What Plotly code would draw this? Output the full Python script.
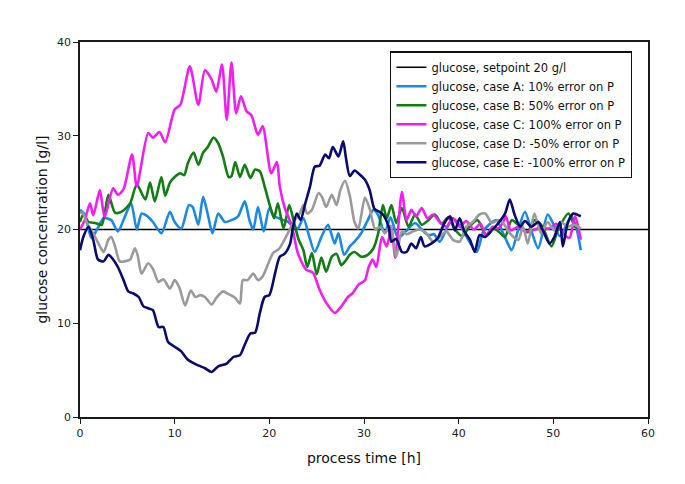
import plotly.graph_objects as go

# setpoint
setpoint_t = [0, 60]
setpoint_y = [20, 20]

# case A: 10% error on P
a_t = [0, 0.5, 1.2, 1.8, 2.5, 3.3, 4.0, 4.75, 5.4, 6.0, 6.5, 7.0, 7.7, 8.6, 9.5, 10.0, 10.7, 11.5, 11.9,
       12.5, 13.0, 13.5, 14.0, 14.6, 15.3, 16.0, 16.7, 17.4, 17.9, 18.3, 18.8, 19.4, 20.0, 20.5, 21.0, 21.5,
       22.0, 22.5, 23.0, 23.6, 24.2, 24.8, 25.5, 26.2, 26.9, 27.3, 27.9, 28.5, 29.0, 29.7, 30.4, 31.0, 31.5,
       32.2, 32.8, 33.6, 34.4, 35.4, 36.1, 36.8, 37.4, 38.0, 38.7, 39.4, 40.1, 40.8, 41.9, 42.6, 43.3, 44.0,
       44.6, 45.1, 45.6, 46.3, 47.0, 47.7, 48.4, 49.4, 50.0, 50.7, 51.9, 52.4, 52.9]
a_y = [22.1, 21.6, 19.1, 20.0, 21.2, 21.0, 19.8, 21.4, 22.8, 20.0, 21.7, 21.5, 20.8, 19.6, 21.9, 20.8, 20.1,
       22.6, 22.4, 20.5, 23.5, 21.6, 19.6, 21.7, 20.8, 21.0, 21.4, 23.0, 21.0, 20.0, 22.4, 19.8, 22.3, 21.4,
       21.2, 21.0, 20.8, 20.3, 20.1, 21.2, 19.3, 17.6, 19.2, 20.5, 18.5, 19.6, 17.3, 18.2, 18.7, 19.6, 21.0,
       22.1, 21.5, 19.6, 21.3, 19.1, 19.8, 20.7, 20.0, 19.4, 19.5, 18.7, 20.0, 21.2, 20.5, 19.3, 17.6, 19.8,
       20.6, 21.0, 19.8, 18.7, 17.8, 20.0, 21.9, 19.8, 18.0, 21.6, 20.6, 19.3, 21.4, 20.3, 17.8]

# case B: 50% error on P
b_t = [0, 0.35, 0.9, 1.6, 2.3, 3.0, 3.7, 4.4, 5.3, 6.0, 6.9, 7.4, 7.9, 8.6, 9.0, 9.5, 10.0, 10.6, 11.0, 11.4,
       12.0, 12.5, 13.0, 13.5, 14.1, 14.6, 15.1, 15.7, 16.0, 16.4, 16.9, 17.4, 18.0, 18.5, 19.0, 19.5, 20.1,
       20.5, 20.9, 21.5, 22.1, 22.6, 23.1, 23.6, 24.0, 24.5, 25.0, 25.5, 26.0, 26.6, 27.1, 27.6, 28.0, 28.5,
       29.0, 29.7, 30.4, 31.0, 31.5, 32.0, 32.4, 32.9, 33.4, 34.0, 34.7, 35.4, 36.1, 36.8, 37.5, 38.2, 38.9,
       39.6, 40.4, 41.2, 42.0, 42.9, 43.6, 44.3, 44.9, 45.6, 46.5, 47.3, 48.0, 48.8, 49.8, 50.5, 51.6, 52.3, 52.9]
b_y = [20.8, 21.6, 20.8, 20.7, 20.5, 23.7, 21.8, 21.9, 22.8, 24.8, 23.2, 25.0, 23.0, 25.6, 23.6, 25.0, 25.6,
       26.0, 25.8, 27.1, 28.2, 26.9, 28.2, 28.8, 29.8, 29.2, 27.8, 25.6, 25.7, 27.2, 25.6, 26.9, 25.5, 26.4,
       26.2, 24.6, 22.4, 21.2, 22.8, 20.1, 22.6, 20.8, 18.9, 17.8, 16.0, 17.5, 15.2, 17.0, 15.5, 17.1, 17.4,
       16.2, 16.6, 17.3, 17.6, 17.1, 17.3, 18.0, 19.6, 22.6, 21.2, 22.6, 20.7, 22.3, 20.3, 21.6, 20.5, 21.0,
       21.6, 20.6, 21.3, 20.0, 19.3, 20.4, 21.0, 19.4, 20.2, 19.7, 19.2, 21.0, 20.3, 19.7, 21.0, 20.4, 18.2,
       20.0, 21.7, 20.3, 20.1]

# case C: 100% error on P
c_t = [0, 0.5, 1.06, 1.4, 2.1, 2.6, 3.5, 4.0, 4.6, 5.5, 6.0, 7.2, 7.7, 8.4, 9.0, 10.0, 10.6, 11.6, 12.5, 13.2,
       13.9, 14.4, 15.0, 15.5, 16.0, 16.5, 17.0, 17.6, 18.1, 18.8, 19.3, 20.2, 20.8, 21.1, 21.6, 22.4, 23.0,
       23.9, 24.6, 25.3, 26.0, 26.9, 27.6, 28.3, 28.8, 29.4, 30.1, 30.5, 30.9, 31.3, 31.9, 32.4, 32.9, 33.3,
       34.0, 34.5, 35.0, 35.5, 36.1, 36.7, 37.3, 38.0, 38.7, 39.4, 40.1, 40.8, 41.6, 42.3, 42.9, 43.6, 44.2,
       44.7, 45.0, 45.5, 46.3, 47.0, 47.8, 48.6, 49.6, 50.3, 51.0, 51.7, 52.3, 52.9]
c_y = [20.0, 21.0, 22.8, 21.5, 24.2, 21.3, 24.4, 23.7, 24.3, 28.0, 24.6, 30.3, 29.8, 30.4, 29.3, 32.8, 33.3,
       37.4, 33.3, 37.0, 36.0, 34.7, 37.6, 31.7, 37.8, 32.4, 34.2, 32.6, 32.2, 30.1, 31.0, 26.0, 27.2, 24.6,
       22.4, 20.3, 17.5, 15.7, 15.4, 13.6, 12.2, 11.1, 11.8, 12.8, 13.2, 14.1, 14.6, 16.0, 16.8, 16.0, 19.2,
       18.2, 20.3, 17.0, 24.0, 21.0, 22.1, 21.4, 22.3, 21.2, 21.6, 20.8, 20.3, 21.2, 20.3, 20.9, 20.0, 20.6,
       19.4, 20.3, 20.1, 20.8, 21.4, 19.9, 20.3, 19.8, 19.9, 20.2, 20.1, 20.6, 19.6, 19.1, 21.4, 18.9]

# case D: -50% error on P
d_t = [0, 0.3, 0.7, 1.6, 2.0, 2.5, 3.0, 3.3, 3.7, 4.2, 4.7, 5.3, 5.8, 6.1, 6.5, 7.2, 7.7, 8.3, 8.8, 9.5, 10.0,
       10.5, 11.1, 11.7, 12.2, 12.7, 13.2, 13.9, 14.4, 15.1, 15.7, 16.4, 16.9, 17.2, 17.7, 18.3, 18.8, 19.3,
       19.9, 20.4, 21.0, 21.6, 22.2, 22.7, 23.2, 23.6, 24.0, 24.5, 25.2, 25.6, 26.0, 26.6, 27.1, 27.5, 28.0,
       28.5, 29.0, 29.4, 30.1, 30.6, 31.2, 31.7, 32.2, 32.8, 33.4, 34.0, 34.5, 35.2, 35.9, 36.6, 37.3, 38.0,
       38.7, 39.4, 40.1, 40.8, 41.5, 42.2, 42.8, 43.5, 44.2, 44.7, 45.4, 46.3, 46.8, 47.3, 48.0, 48.7, 49.4,
       50.1, 50.8, 51.5, 52.2, 52.9]
d_y = [21.8, 21.7, 20.8, 19.2, 18.4, 17.6, 18.9, 19.2, 18.2, 16.6, 16.6, 16.8, 18.0, 17.2, 15.3, 16.4, 15.8,
       14.4, 14.7, 13.7, 14.6, 13.8, 11.9, 13.5, 12.8, 13.0, 12.8, 12.0, 12.7, 13.4, 13.1, 12.7, 12.1, 14.6,
       14.6, 15.3, 14.6, 15.0, 16.4, 17.5, 17.9, 18.9, 20.1, 21.0, 21.7, 22.6, 21.7, 22.1, 23.9, 23.4, 22.4,
       23.7, 22.6, 24.2, 25.2, 23.6, 20.8, 20.1, 23.4, 22.2, 20.0, 20.3, 19.6, 20.4, 17.1, 19.8, 19.5, 19.8,
       20.0, 19.6, 18.7, 19.2, 19.8, 18.9, 18.7, 20.3, 20.8, 21.6, 21.7, 20.7, 21.0, 20.7, 19.6, 18.9, 20.3,
       18.5, 21.7, 19.6, 20.8, 19.9, 20.8, 20.3, 20.5, 20.1]

# case E: -100% error on P
e_t = [0, 0.35, 0.9, 1.4, 1.9, 2.5, 3.0, 3.5, 4.0, 4.6, 5.1, 5.6, 6.2, 6.7, 7.2, 7.7, 8.3, 8.8, 9.3, 10.0,
       10.7, 11.4, 12.5, 13.2, 13.9, 14.6, 15.5, 16.2, 16.9, 17.4, 18.0, 18.5, 19.0, 19.5, 20.0, 20.6, 21.1,
       21.6, 22.2, 22.5, 22.9, 23.3, 23.8, 24.3, 24.8, 25.3, 25.9, 26.3, 26.7, 27.3, 27.8, 28.1, 28.5, 29.0,
       29.5, 30.1, 30.6, 31.1, 31.6, 32.0, 32.6, 32.9, 33.4, 34.0, 34.5, 35.0, 35.5, 36.0, 36.4, 37.1, 37.8,
       38.5, 39.1, 39.6, 40.1, 40.6, 41.2, 41.7, 42.2, 42.8, 43.5, 44.2, 44.9, 45.4, 45.9, 46.5, 47.0, 47.7,
       48.4, 48.9, 49.6, 50.1, 50.7, 51.0, 51.5, 52.1, 52.5, 52.9]
e_y = [17.8, 19.2, 20.3, 18.9, 16.8, 16.6, 17.3, 16.8, 16.0, 14.6, 13.4, 13.2, 12.8, 11.8, 11.6, 11.4, 9.6,
       9.6, 8.0, 7.5, 7.0, 6.1, 5.5, 5.2, 4.8, 5.4, 5.7, 6.4, 6.6, 7.7, 8.9, 9.0, 11.1, 12.8, 13.0, 15.3, 17.1,
       17.4, 18.5, 20.3, 21.7, 21.0, 22.8, 24.6, 26.7, 26.8, 28.0, 27.6, 28.8, 27.8, 29.4, 27.6, 25.7, 26.3,
       25.9, 25.3, 24.2, 22.2, 21.9, 21.6, 20.3, 18.7, 19.0, 17.6, 17.6, 18.5, 18.0, 19.2, 18.2, 18.5, 19.1,
       20.7, 21.4, 19.9, 21.2, 19.8, 18.9, 17.6, 19.4, 19.2, 19.9, 20.7, 21.7, 23.2, 21.6, 20.3, 20.9, 20.3,
       20.8, 19.9, 18.5, 19.2, 20.8, 18.2, 20.6, 21.7, 21.6, 21.4]

series = [
    ("glucose, setpoint 20 g/l", setpoint_t, setpoint_y, "#000000", 1.4),
    ("glucose, case A: 10% error on P", a_t, a_y, "#1a88e6", 2.6),
    ("glucose, case B: 50% error on P", b_t, b_y, "#127d12", 2.6),
    ("glucose, case C: 100% error on P", c_t, c_y, "#f01ef0", 2.6),
    ("glucose, case D: -50% error on P", d_t, d_y, "#9a9a9a", 2.6),
    ("glucose, case E: -100% error on P", e_t, e_y, "#0a0a6e", 2.6),
]

fig = go.Figure()
for name, t, y, color, width in series:
    shape = "linear" if width < 2 else "spline"
    fig.add_trace(go.Scatter(x=t, y=y, mode="lines", name=name,
                             line={"color": color, "width": width, "shape": shape, "smoothing": 0.7}))

axis_style = dict(showline=True, linecolor="#1a1a1a", linewidth=1.6, mirror=True,
                  ticks="outside", ticklen=5, tickcolor="#1a1a1a", showgrid=False, zeroline=False,
                  tickfont={"size": 11, "color": "#222222"})

fig.update_xaxes(range=[0, 60], dtick=10,
                 title={"text": "process time [h]", "font": {"size": 14}, "standoff": 14}, **axis_style)
fig.update_yaxes(range=[0, 40], dtick=10,
                 title={"text": "glucose concentration [g/l]", "font": {"size": 14}, "standoff": 6},
                 **axis_style)

# page body adds an 8px margin, so the figure is a bit smaller than the window
fig.update_layout(
    width=669, height=468,
    paper_bgcolor="white", plot_bgcolor="white",
    font={"family": "DejaVu Sans", "color": "#111111"},
    margin={"l": 72, "r": 29, "t": 34, "b": 59},
    showlegend=True,
    legend={"x": 0.546, "y": 0.975, "xanchor": "left", "yanchor": "top",
            "bordercolor": "#111111", "borderwidth": 1.3, "bgcolor": "white",
            "font": {"size": 11.5}, "tracegroupgap": 0},
)

fig.write_html("out.html")
